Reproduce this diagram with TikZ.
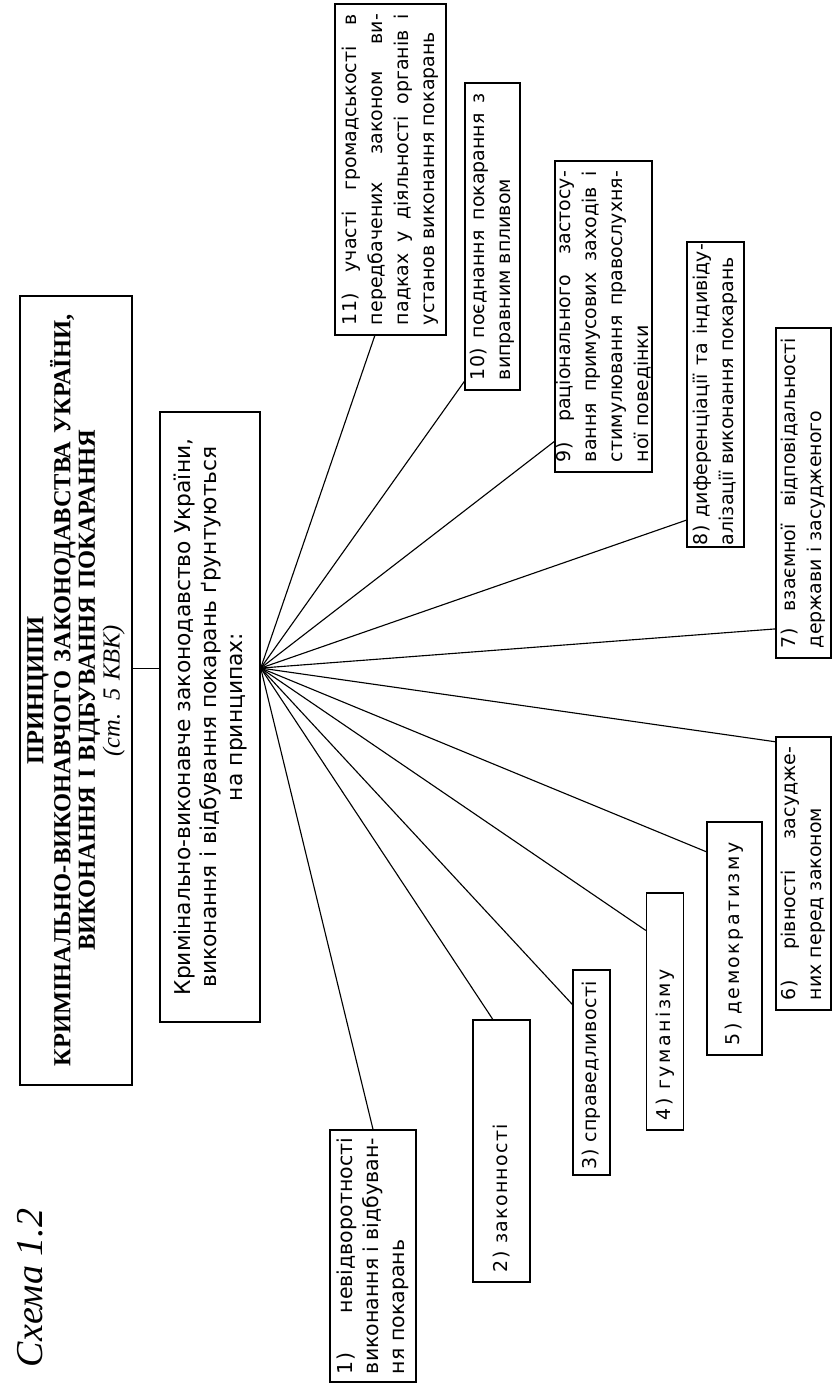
\documentclass[tikz,border=0pt]{standalone}
\usepackage{fontspec}
\setmainfont{Liberation Serif}
\newfontfamily\boxfont{DejaVu Sans}
\usetikzlibrary{calc}
\tolerance=10000
\hyphenpenalty=10000

\begin{document}
\begin{tikzpicture}[x=0.025cm, y=-0.025cm,
  box/.style={draw, line width=1pt, rotate=90, inner xsep=0.25cm, inner ysep=0pt, align=justify,
    font=\boxfont\fontsize{13.5}{18.4}\selectfont},
  spaced/.style={font=\boxfont\fontsize{13.5}{18.4}\selectfont\addfontfeature{LetterSpace=#1}},
  ray/.style={line width=0.8pt}]
\useasboundingbox (0,0) rectangle (832,1384);
% title and main statement
\node[box, align=center, minimum width=19.725cm, minimum height=2.8cm, text width=19.2cm,
  font=\fontsize{17.4}{17.5}\selectfont\bfseries] (title) at (76,690.5)
  {ПРИНЦИПИ\\КРИМІНАЛЬНО-ВИКОНАВЧОГО ЗАКОНОДАВСТВА УКРАЇНИ,\\ВИКОНАННЯ І ВІДБУВАННЯ ПОКАРАННЯ\\{\mdseries\itshape (ст. 5 КВК)}};
\node[box, align=center, minimum width=15.25cm, minimum height=2.5cm, text width=14.75cm,
  font=\boxfont\fontsize{15.5}{18.5}\selectfont] (main) at (210,717)
  {Кримінально-виконавче законодавство України,\\виконання і відбування покарань ґрунтуються\\на принципах:};
\coordinate (hub) at ($(main.south west)!0.58!(main.south east)$);
\draw[line width=0.8pt] (title.south |- hub) -- (main.north |- hub);
% principles
\node[box, minimum width=8.275cm, minimum height=2.775cm, text width=7.775cm] (b11) at (390.5,169.5)
  {\parfillskip=0pt 11) участі громадськості в\linebreak передбачених законом ви-\linebreak падках у діяльності органів і\linebreak установ виконання покарань};
\node[box, minimum width=7.675cm, minimum height=1.375cm, text width=7.175cm] (b10) at (492.5,236.5)
  {10) поєднання покарання з\linebreak виправним впливом};
\node[box, minimum width=7.775cm, minimum height=2.425cm, text width=7.275cm] (b9) at (603.5,316.5)
  {9) раціонального застосу-\linebreak вання примусових заходів і\linebreak стимулювання правослухня-\linebreak ної поведінки};
\node[box, inner xsep=0.05cm, minimum width=7.625cm, minimum height=1.425cm, text width=7.525cm] (b8) at (715.5,394.5)
  {\parfillskip=0pt 8) диференціації та індивіду-\linebreak алізації виконання покарань};
\node[box, minimum width=8.25cm, minimum height=1.375cm, text width=7.75cm] (b7) at (803.5,493)
  {7) взаємної відповідальності\linebreak держави і засудженого};
\node[box, minimum width=6.825cm, minimum height=1.375cm, text width=6.325cm] (b6) at (803.5,873.5)
  {\parfillskip=0pt 6) рівності засудже-\linebreak них перед законом};
\node[box, spaced=13, minimum width=5.825cm, minimum height=1.375cm, text width=5.325cm] (b5) at (734.5,938.5)
  {5) демократизму};
\node[box, spaced=13, minimum width=5.925cm, minimum height=0.925cm, text width=5.425cm] (b4) at (665,1011.5)
  {4) гуманізму};
\node[box, spaced=2, inner xsep=0.15cm, minimum width=5.125cm, minimum height=0.925cm, text width=4.825cm] (b3) at (591.5,1072.5)
  {3) справедливості};
\node[box, spaced=7, minimum width=6.55cm, minimum height=1.425cm, text width=6.05cm] (b2) at (501.5,1151)
  {2) законності};
\node[box, inner xsep=0.2cm, font=\boxfont\fontsize{14.6}{18.4}\selectfont,
  minimum width=6.3cm, minimum height=2.15cm, text width=5.9cm] (b1) at (373,1256)
  {1) невідворотності\linebreak виконання і відбуван-\linebreak ня покарань};
% rays from the statement
\draw[ray] (hub) -- ($(b11.north west)!0.36!(b11.south west)$);
\foreach \b/\t in {b10/0.03, b9/0.10, b8/0.09, b7/0.09, b6/0.98, b5/0.87, b4/0.84, b3/0.83}
  \draw[ray] (hub) -- ($(\b.north west)!\t!(\b.north east)$);
\draw[ray] (hub) -- ($(b2.north east)!0.35!(b2.south east)$);
\draw[ray] (hub) -- (b1.east);
\node[rotate=90, font=\fontsize{27}{27}\selectfont\itshape] (caption) at (30,1288) {Схема 1.2};
\end{tikzpicture}
\end{document}
